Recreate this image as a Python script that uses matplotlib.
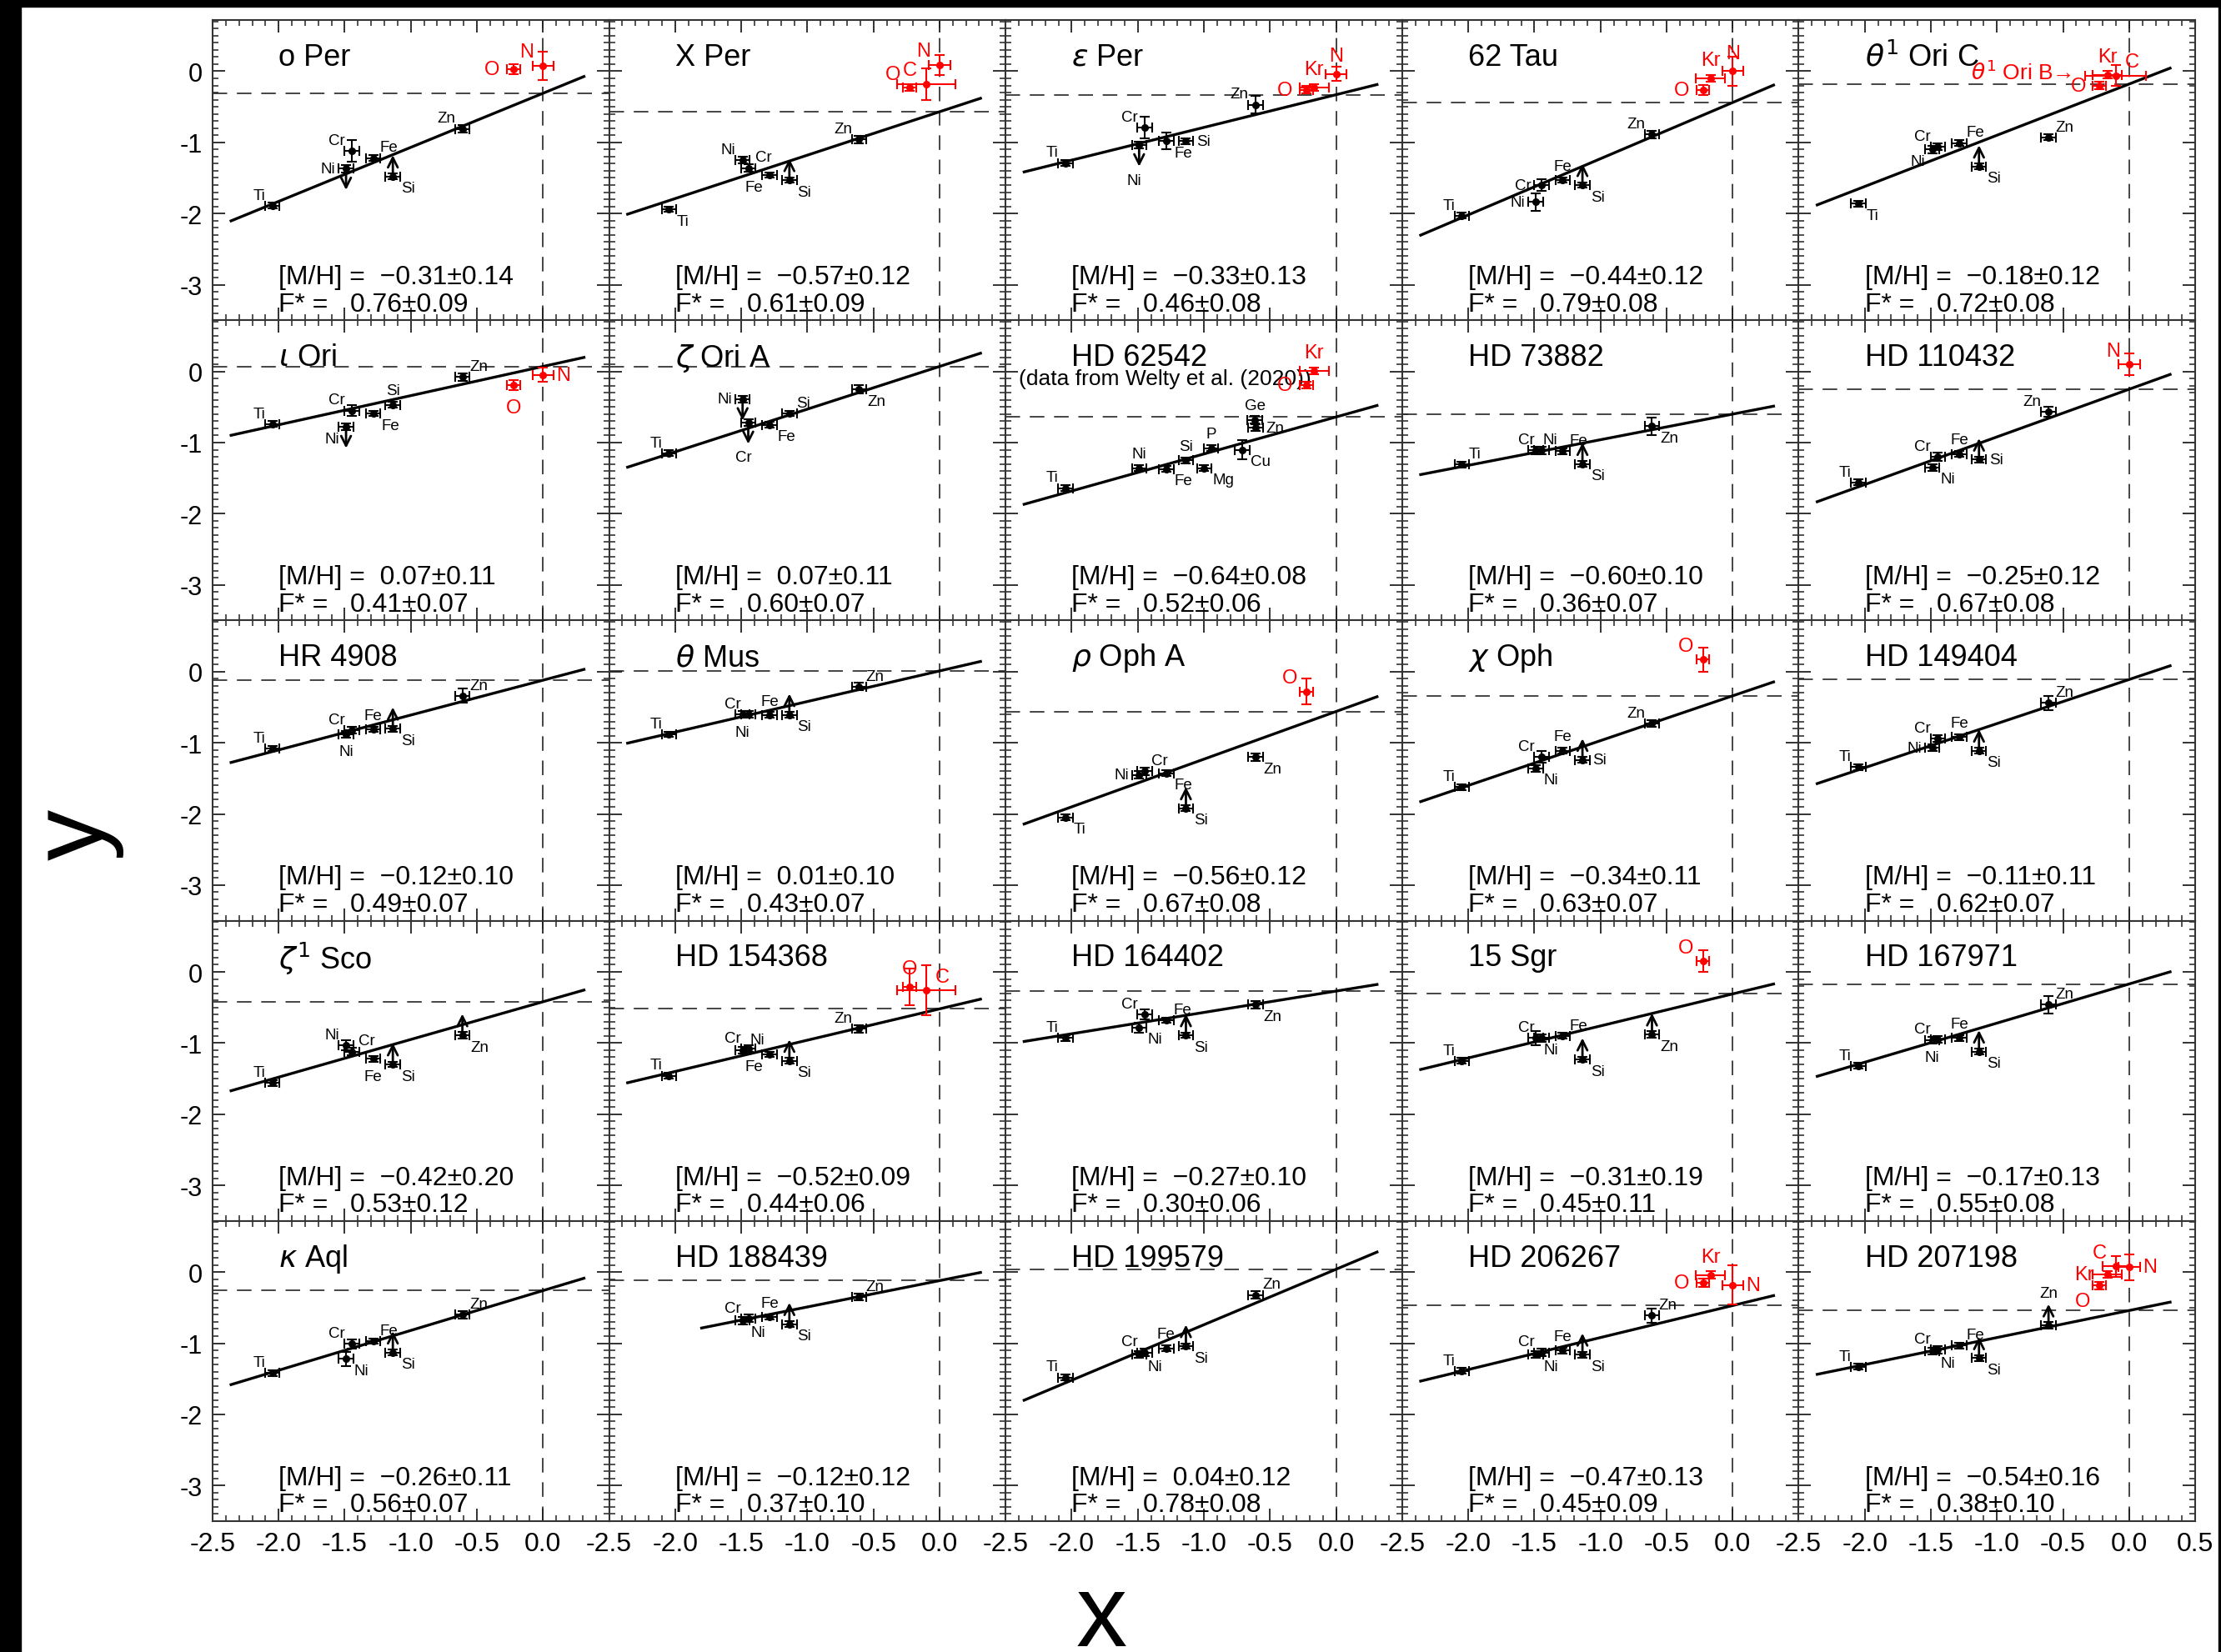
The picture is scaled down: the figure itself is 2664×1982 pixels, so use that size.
import matplotlib
matplotlib.use('Agg')
import matplotlib.pyplot as plt
from matplotlib.patches import Rectangle
from matplotlib.ticker import MultipleLocator, FuncFormatter

plt.rcParams['font.family'] = ['Liberation Sans', 'DejaVu Sans']
plt.rcParams['mathtext.fontset'] = 'dejavusans'
plt.rcParams['axes.unicode_minus'] = False

# ---- data, panel order is row by row ----
stars = ['o Per', 'X Per', r'$\varepsilon$ Per', '62 Tau', r'$\theta^1$ Ori C',
         r'$\iota$ Ori', r'$\zeta$ Ori A', 'HD 62542', 'HD 73882', 'HD 110432',
         'HR 4908', r'$\theta$ Mus', r'$\rho$ Oph A', r'$\chi$ Oph', 'HD 149404',
         r'$\zeta^1$ Sco', 'HD 154368', 'HD 164402', '15 Sgr', 'HD 167971',
         r'$\kappa$ Aql', 'HD 188439', 'HD 199579', 'HD 206267', 'HD 207198']
mh = [-0.31, -0.57, -0.33, -0.44, -0.18, 0.07, 0.07, -0.64, -0.60, -0.25,
      -0.12, 0.01, -0.56, -0.34, -0.11, -0.42, -0.52, -0.27, -0.31, -0.17,
      -0.26, -0.12, 0.04, -0.47, -0.54]
mh_err = [0.14, 0.12, 0.13, 0.12, 0.12, 0.11, 0.11, 0.08, 0.10, 0.12,
          0.10, 0.10, 0.12, 0.11, 0.11, 0.20, 0.09, 0.10, 0.19, 0.13,
          0.11, 0.12, 0.12, 0.13, 0.16]
fstar = [0.76, 0.61, 0.46, 0.79, 0.72, 0.41, 0.60, 0.52, 0.36, 0.67,
         0.49, 0.43, 0.67, 0.63, 0.62, 0.53, 0.44, 0.30, 0.45, 0.55,
         0.56, 0.37, 0.78, 0.45, 0.38]
fstar_err = [0.09, 0.09, 0.08, 0.08, 0.08, 0.07, 0.07, 0.06, 0.07, 0.08,
             0.07, 0.07, 0.08, 0.07, 0.07, 0.12, 0.06, 0.06, 0.11, 0.08,
             0.07, 0.10, 0.08, 0.09, 0.10]
line_start = [-2.36, -2.36, -2.36, -2.36, -2.36, -2.36, -2.36, -2.36, -2.36, -2.36,
              -2.36, -2.36, -2.36, -2.36, -2.36, -2.36, -2.36, -2.36, -2.36, -2.36,
              -2.36, -1.80, -2.36, -2.36, -2.36]
line_end = 0.31

# depletion coefficients (x positions) of each element
ax_ti, ax_ni, ax_cr, ax_fe, ax_si, ax_zn = -2.048, -1.490, -1.447, -1.285, -1.136, -0.610
ax_o, ax_n, ax_kr, ax_c = -0.225, 0.0, -0.166, -0.101

ti_y = [-1.89, -1.94, -1.29, -2.03, -1.86, -0.74, -1.15, -1.64, -1.31, -1.56,
        -1.08, -0.88, -2.05, -1.62, -1.34, -1.56, -1.46, -0.93, -1.25, -1.32,
        -1.42, None, -1.48, -1.39, -1.33]
ni_y = [-1.37, -1.25, -1.04, -1.84, -1.10, -0.78, -0.39, -1.36, -1.11, -1.35,
        -0.88, -0.60, -1.45, -1.36, -1.07, -1.03, -1.10, -0.78, -0.93, -0.96,
        -1.22, -0.68, -1.16, -1.16, -1.11]
cr_y = [-1.12, -1.36, -0.79, -1.60, -1.06, -0.55, -0.72, None, -1.11, -1.20,
        -0.82, -0.60, -1.40, -1.20, -0.94, -1.12, -1.08, -0.60, -0.93, -0.95,
        -1.01, -0.65, -1.13, -1.13, -1.09]
fe_y = [-1.22, -1.46, -0.98, -1.53, -1.01, -0.59, -0.75, -1.37, -1.12, -1.16,
        -0.81, -0.61, -1.43, -1.11, -0.92, -1.22, -1.16, -0.68, -0.90, -0.93,
        -0.97, -0.63, -1.07, -1.10, -1.03]
si_y = [-1.48, -1.53, -0.98, -1.60, -1.34, -0.47, -0.59, -1.25, -1.30, -1.24,
        -0.80, -0.61, -1.92, -1.24, -1.11, -1.30, -1.25, -0.89, -1.23, -1.12,
        -1.13, -0.73, -1.04, -1.16, -1.21]
zn_y = [-0.81, -0.96, -0.47, -0.89, -0.93, -0.08, -0.25, -0.79, -0.77, -0.57,
        -0.34, -0.21, -1.20, -0.73, -0.44, -0.89, -0.80, -0.46, -0.88, -0.46,
        -0.60, -0.35, -0.32, -0.61, -0.75]

ti_err = [0.04] * 25
ni_err = [0.05, 0.05, 0.05, 0.12, 0.05, 0.05, 0.05, 0.04, 0.05, 0.05,
          0.05, 0.05, 0.05, 0.05, 0.05, 0.07, 0.05, 0.07, 0.10, 0.05,
          0.10, 0.05, 0.05, 0.05, 0.05]
cr_err = [0.15, 0.05, 0.15, 0.08, 0.05, 0.08, 0.05, None, 0.05, 0.06,
          0.05, 0.05, 0.05, 0.08, 0.05, 0.05, 0.05, 0.07, 0.05, 0.05,
          0.06, 0.05, 0.05, 0.05, 0.05]
fe_err = [0.04, 0.04, 0.12, 0.04, 0.04, 0.04, 0.04, 0.04, 0.04, 0.04,
          0.04, 0.04, 0.04, 0.04, 0.04, 0.04, 0.04, 0.04, 0.04, 0.04,
          0.04, 0.04, 0.04, 0.04, 0.04]
si_err = [0.04] * 25
zn_err = [0.05, 0.05, 0.12, 0.05, 0.04, 0.05, 0.06, 0.05, 0.12, 0.07,
          0.10, 0.05, 0.05, 0.05, 0.10, 0.05, 0.05, 0.05, 0.05, 0.12,
          0.05, 0.05, 0.05, 0.10, 0.05]

# limits: 'u' upper limit (arrow down), 'l' lower limit (arrow up)
ni_lim = ['u', '', 'u', '', '', 'u', 'u', '', '', '', '', '', '', '', '', '', '', '', '', '', '', '', '', '', '']
cr_lim = ['', '', '', '', '', '', 'u', '', '', '', '', '', '', '', '', '', '', '', '', '', '', '', '', '', '']
si_lim = ['l', 'l', '', 'l', 'l', '', '', '', 'l', 'l', 'l', 'l', 'l', 'l', 'l', 'l', 'l', 'l', 'l', 'l', 'l', 'l', 'l', 'l', 'l']
zn_lim = ['', '', '', '', '', '', '', '', '', '', '', '', '', '', '', 'l', '', '', 'l', '', '', '', '', '', 'l']

ti_lab = ['ul', 'lr', 'ul', 'ul', 'lr', 'ul', 'ul', 'ul', 'ur', 'ul', 'ul', 'ul', 'lr', 'ul', 'ul',
          'ul', 'ul', 'ul', 'ul', 'ul', 'ul', None, 'ul', 'ul', 'ul']
ni_lab = ['l', 'ul', 'dd', 'l', 'll', 'll', 'l', 'u', 'ur', 'lr', 'd', 'd', 'l', 'lr', 'l',
          'ul', 'ur', 'lr', 'lr', 'd', 'lr', 'lr', 'lr', 'lr', 'lr']
cr_lab = ['ul', 'ur', 'ul', 'l', 'ul', 'ul', 'dd', None, 'ul', 'ul', 'ul', 'ul', 'ur', 'ul', 'ul',
          'ur', 'ul', 'ul', 'ul', 'ul', 'ul', 'ul', 'ul', 'ul', 'ul']
fe_lab = ['ur', 'll', 'lr', 'u', 'ur', 'lr', 'lr', 'lr', 'ur', 'u', 'u', 'u', 'lr', 'u', 'u',
          'd', 'll', 'ur', 'ur', 'u', 'ur', 'u', 'u', 'u', 'ur']
si_lab = ['lr', 'lr', 'r', 'lr', 'lr', 'u', 'ur', 'u', 'lr', 'r', 'lr', 'lr', 'lr', 'r', 'lr',
          'lr', 'lr', 'lr', 'lr', 'lr', 'lr', 'lr', 'lr', 'lr', 'lr']
zn_lab = ['ul', 'ul', 'ul', 'ul', 'ur', 'ur', 'lr', 'r', 'lr', 'ul', 'ur', 'ur', 'lr', 'ul', 'ur',
          'lr', 'ul', 'lr', 'lr', 'ur', 'ur', 'ur', 'ur', 'ur', 'uu']

# red (volatile) elements
o_y = [0.03, -0.23, -0.26, -0.26, -0.20, -0.19, None, -0.19, None, None,
       None, None, -0.28, 0.17, None, None, -0.21, None, 0.15, None,
       None, None, None, -0.15, -0.19]
o_err = [0.07, 0.05, 0.05, 0.07, 0.05, 0.07, None, 0.05, None, None,
         None, None, 0.18, 0.17, None, None, 0.26, None, 0.15, None,
         None, None, None, 0.06, 0.05]
o_lab = ['l', 'ul', 'l', 'l', 'l', 'd', None, 'l', None, None, None, None, 'ul', 'ul', None,
         None, 'u', None, 'ul', None, None, None, None, 'l', 'll']
n_y = [0.08, 0.09, -0.04, 0.00, None, -0.05, None, None, None, 0.10,
       None, None, None, None, None, None, None, None, None, None,
       None, None, None, -0.18, 0.07]
n_err = [0.20, 0.14, 0.10, 0.20, None, 0.10, None, None, None, 0.15,
         None, None, None, None, None, None, None, None, None, None,
         None, None, None, 0.28, 0.18]
n_lab = ['ul', 'ul', 'u', 'u', None, 'r', None, None, None, 'ul', None, None, None, None, None,
         None, None, None, None, None, None, None, None, 'r', 'r']
kr_y = [None, None, -0.23, -0.10, -0.05, None, None, 0.01, None, None,
        None, None, None, None, None, None, None, None, None, None,
        None, None, None, -0.04, -0.03]
kr_lab = [None, None, 'u', 'u', 'u', None, None, 'u', None, None, None, None, None, None, None,
          None, None, None, None, None, None, None, None, 'u', 'l']
c_y = [None, -0.18, None, None, -0.06, None, None, None, None, None,
       None, None, None, None, None, None, -0.26, None, None, None,
       None, None, None, None, 0.08]
c_err = [None, 0.22, None, None, 0.15, None, None, None, None, None,
         None, None, None, None, None, None, 0.35, None, None, None,
         None, None, None, None, 0.15]
c_xerr = [None, 0.22, None, None, 0.23, None, None, None, None, None,
          None, None, None, None, None, None, 0.22, None, None, None,
          None, None, None, None, 0.10]
c_lab = [None, 'ul', None, None, 'ur', None, None, None, None, None, None, None, None, None, None,
         None, 'ur', None, None, None, None, None, None, None, 'ul']

# extra elements in HD 62542 (Welty et al. 2020)
extra_names = ['Mg', 'P', 'Cu', 'Ge']
extra_x = [-0.997, -0.945, -0.711, -0.615]
extra_y = [-1.36, -1.08, -1.10, -0.68]
extra_err = [0.04, 0.04, 0.14, 0.05]
extra_lab = ['lr', 'u', 'lr', 'u']

offsets = {'ul': (-6, 3, 'right', 'bottom'), 'ur': (6, 3, 'left', 'bottom'),
           'u': (0, 6, 'center', 'bottom'), 'uu': (0, 22, 'center', 'bottom'),
           'lr': (7, -4, 'left', 'top'), 'll': (-6, -4, 'right', 'top'),
           'l': (-9, 0, 'right', 'center'), 'r': (9, 0, 'left', 'center'),
           'd': (0, -9, 'center', 'top'), 'dd': (-4, -24, 'center', 'top')}


def draw_point(ax, name, x, y, xe, ye, color, lim, lab, fs, scale):
    ax.errorbar(x, y, xerr=xe, yerr=ye, fmt='o', ms=5.5, color=color, ecolor=color,
                elinewidth=1.5, capsize=4.5, capthick=1.5, zorder=4)
    if lim:
        dy = 0.3 if lim == 'l' else -0.3
        ax.annotate('', xy=(x, y + dy), xytext=(x, y),
                    arrowprops=dict(arrowstyle='->', color=color, lw=2.0,
                                    mutation_scale=21, shrinkA=0, shrinkB=0), zorder=4)
    if lab:
        dx, dy, ha, va = offsets[lab]
        ax.annotate(name, (x, y), xytext=(dx * scale, dy * scale), textcoords='offset points',
                    ha=ha, va=va, fontsize=fs, color=color, zorder=5)


black = [('Ti', ax_ti, ti_y, ti_err, None, ti_lab),
         ('Ni', ax_ni, ni_y, ni_err, ni_lim, ni_lab),
         ('Cr', ax_cr, cr_y, cr_err, cr_lim, cr_lab),
         ('Fe', ax_fe, fe_y, fe_err, None, fe_lab),
         ('Si', ax_si, si_y, si_err, si_lim, si_lab),
         ('Zn', ax_zn, zn_y, zn_err, zn_lim, zn_lab)]


def num(v):
    return ('\u2212' if v < 0 else '') + '%.2f' % abs(v)


fig, axes = plt.subplots(5, 5, figsize=(26.64, 19.83), dpi=100)
fig.subplots_adjust(left=0.0957, right=0.9884, bottom=0.0792, top=0.9874, wspace=0, hspace=0)

for i, ax in enumerate(axes.flat):
    row, col = divmod(i, 5)
    ax.set_xlim(-2.5, 0.5)
    ax.set_ylim(-3.5, 0.72)
    ax.axhline(mh[i], color='#444444', lw=1.4, dashes=(9, 6), zorder=1)
    ax.axvline(0.0, color='#444444', lw=1.4, dashes=(9, 6), zorder=1)
    ax.plot([line_start[i], line_end],
            [mh[i] + fstar[i] * line_start[i], mh[i] + fstar[i] * line_end],
            color='k', lw=2.4, zorder=2)

    for name, xpos, ys, es, lims, labs in black:
        if ys[i] is None:
            continue
        draw_point(ax, name, xpos, ys[i], 0.055, es[i], 'k',
                   lims[i] if lims else '', labs[i], 13.5, 1.0)
    if i == 7:
        for k in range(len(extra_names)):
            draw_point(ax, extra_names[k], extra_x[k], extra_y[k], 0.055, extra_err[k],
                       'k', '', extra_lab[k], 13.5, 1.0)

    red = 'red'
    if o_y[i] is not None:
        draw_point(ax, 'O', ax_o, o_y[i], 0.05, o_err[i], red, '', o_lab[i], 17, 1.3)
    if kr_y[i] is not None:
        draw_point(ax, 'Kr', ax_kr, kr_y[i], 0.11, 0.05, red, '', kr_lab[i], 17, 1.3)
    if c_y[i] is not None:
        draw_point(ax, 'C', ax_c, c_y[i], c_xerr[i], c_err[i], red, '', c_lab[i], 17, 1.3)
    if n_y[i] is not None:
        draw_point(ax, 'N', ax_n, n_y[i], 0.08, n_err[i], red, '', n_lab[i], 17, 1.3)

    ax.text(-2.0, 0.2, stars[i], fontsize=26, ha='left', va='center', zorder=6)
    ax.text(-2.0, -2.89, '[M/H] =  %s\u00b1%.2f' % (num(mh[i]), mh_err[i]),
            fontsize=23, ha='left', va='center', zorder=6)
    ax.text(-2.0, -3.27, 'F* =   %s\u00b1%.2f' % (num(fstar[i]), fstar_err[i]),
            fontsize=23, ha='left', va='center', zorder=6)
    if i == 7:
        ax.text(-2.4, -0.1, '(data from Welty et al. (2020))', fontsize=19,
                ha='left', va='center', zorder=3)
    if i == 4:
        ax.text(-1.2, 0.0, r'$\theta^1$ Ori B' + '\u2192', fontsize=19, color='red',
                ha='left', va='center', zorder=6)

    ax.xaxis.set_major_locator(MultipleLocator(0.5))
    ax.xaxis.set_minor_locator(MultipleLocator(0.1))
    ax.yaxis.set_major_locator(MultipleLocator(1))
    ax.yaxis.set_minor_locator(MultipleLocator(0.1))
    ax.tick_params(which='both', direction='in', top=True, right=True, color='#222222')
    ax.tick_params(which='major', length=11, width=1.3)
    ax.tick_params(which='minor', length=5, width=1.1)
    ax.tick_params(axis='x', labelsize=23, pad=9)
    ax.tick_params(axis='y', labelsize=22, pad=9)
    for sp in ax.spines.values():
        sp.set_linewidth(1.5)
        sp.set_color('#333333')

    if row == 4:
        last = (col == 4)
        ax.xaxis.set_major_formatter(FuncFormatter(
            lambda v, p, last=last: ('%.1f' % v) if (v < 0.25 or last) else ''))
    else:
        ax.tick_params(labelbottom=False)
    if col == 0:
        ax.yaxis.set_major_formatter(FuncFormatter(lambda v, p: '%d' % round(v)))
    else:
        ax.tick_params(labelleft=False)

fig.text(0.496, 0.004, 'x', fontsize=88, ha='center', va='baseline')
fig.text(0.0345, 0.495, 'y', fontsize=88, ha='center', va='center', rotation=90)

# black frame strips at the edges of the scanned figure
fig.add_artist(Rectangle((0, 1 - 9 / 1983), 1, 9 / 1983, transform=fig.transFigure,
                         color='black', zorder=10))
fig.add_artist(Rectangle((0, 0), 25 / 2664, 1, transform=fig.transFigure,
                         color='black', zorder=10))
fig.add_artist(Rectangle((1 - 3 / 2664, 0), 3 / 2664, 1, transform=fig.transFigure,
                         color='black', zorder=10))

fig.savefig('out.png', dpi=100)
